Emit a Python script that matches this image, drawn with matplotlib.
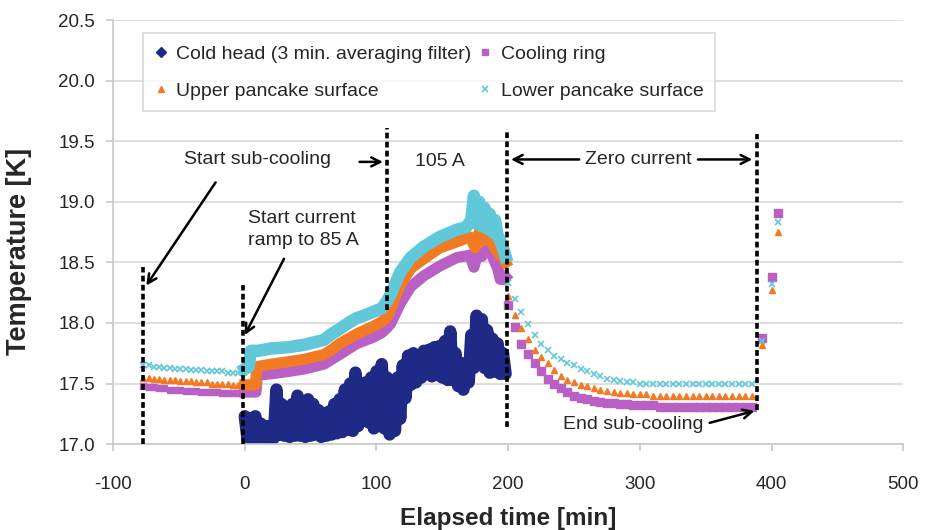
import matplotlib
matplotlib.use('Agg')
import matplotlib.pyplot as plt
from matplotlib.lines import Line2D

plt.rcParams['font.family'] = ['Liberation Sans', 'DejaVu Sans']

# ---------------- data ----------------
# pre-cooling (sparse markers)
t_pre = [-77, -73, -69, -65, -61, -57, -53, -49, -45, -41,
         -37, -33, -29, -25, -21, -17, -13, -9, -5, -1]
lower_pre = [17.65, 17.65, 17.64, 17.64, 17.63, 17.63, 17.62, 17.62, 17.62, 17.61,
             17.61, 17.61, 17.60, 17.60, 17.60, 17.60, 17.59, 17.59, 17.59, 17.59]
upper_pre = [17.55, 17.55, 17.54, 17.54, 17.53, 17.53, 17.53, 17.52, 17.52, 17.52,
             17.51, 17.51, 17.51, 17.50, 17.50, 17.50, 17.50, 17.49, 17.49, 17.49]
ring_pre = [17.48, 17.47, 17.47, 17.46, 17.46, 17.45, 17.45, 17.45, 17.44, 17.44,
            17.44, 17.43, 17.43, 17.43, 17.43, 17.42, 17.42, 17.42, 17.42, 17.42]

# current on (dense records)
t_lower_on = [0, 3, 4.5, 10, 20, 33, 45, 60, 66, 72, 80, 85, 90, 97, 104, 108, 111,
              118, 126, 136, 148, 161, 168, 172, 174, 176, 178, 180, 182, 184, 186,
              188, 190, 192, 194, 196, 198]
lower_on = [17.62, 17.64, 17.77, 17.77, 17.79, 17.80, 17.82, 17.86, 17.91, 17.95, 18.01,
            18.04, 18.06, 18.09, 18.12, 18.18, 18.24, 18.42, 18.54, 18.63, 18.71, 18.77,
            18.79, 18.85, 19.05, 18.82, 19.00, 18.80, 18.95, 18.78, 18.90, 18.75, 18.85,
            18.72, 18.68, 18.62, 18.55]
t_upper_on = [0, 8.3, 9, 20, 33, 45, 60, 66, 72, 85, 97, 104, 108, 111, 118, 126, 136,
              148, 161, 171, 175, 178, 181, 185, 188, 191, 194, 196, 198]
upper_on = [17.49, 17.49, 17.64, 17.66, 17.68, 17.70, 17.74, 17.78, 17.83, 17.91, 17.97,
            18.01, 18.05, 18.12, 18.31, 18.45, 18.53, 18.62, 18.67, 18.71, 18.62, 18.75,
            18.68, 18.80, 18.65, 18.60, 18.56, 18.54, 18.50]
t_ring_on = [0, 8.5, 9.5, 20, 33, 45, 60, 66, 72, 85, 97, 104, 108, 111, 118, 126, 136,
             148, 161, 171, 174, 177, 180, 184, 187, 190, 192, 194, 196, 198]
ring_on = [17.43, 17.43, 17.57, 17.58, 17.60, 17.62, 17.66, 17.70, 17.74, 17.83, 17.88,
           17.92, 17.96, 18.00, 18.16, 18.30, 18.39, 18.47, 18.54, 18.56, 18.46, 18.58,
           18.55, 18.62, 18.58, 18.50, 18.45, 18.36, 18.36, 18.38]

# cold head, 2-min records 0..198
t_cold = list(range(0, 200, 2))
cold = [17.23, 17.05, 17.21, 17.03, 17.23, 17.02, 17.17, 17.01, 17.15, 17.02,
        17.15, 17.05, 17.45, 17.08, 17.33, 17.07, 17.25, 17.06, 17.33, 17.07,
        17.40, 17.07, 17.31, 17.06, 17.37, 17.07, 17.33, 17.08, 17.28, 17.06,
        17.25, 17.07, 17.27, 17.08, 17.33, 17.09, 17.37, 17.10, 17.45, 17.12,
        17.50, 17.11, 17.59, 17.15, 17.50, 17.23, 17.51, 17.18, 17.55, 17.13,
        17.60, 17.15, 17.66, 17.13, 17.55, 17.08, 17.45, 17.11, 17.55, 17.21,
        17.65, 17.38, 17.73, 17.49, 17.75, 17.51, 17.73, 17.55, 17.77, 17.58,
        17.78, 17.56, 17.80, 17.57, 17.81, 17.55, 17.85, 17.53, 17.93, 17.53,
        17.75, 17.48, 17.67, 17.45, 17.65, 17.51, 17.90, 17.63, 18.06, 17.69,
        18.03, 17.63, 17.94, 17.59, 17.87, 17.60, 17.83, 17.58, 17.75, 17.58]

# zero current decay (sparse markers)
t_dec = [200, 205, 210, 215, 220, 225, 230, 235, 240, 245,
         250, 255, 260, 265, 270, 275, 280, 285, 290, 295,
         300, 305, 310, 315, 320, 325, 330, 335, 340, 345,
         350, 355, 360, 365, 370, 375, 380, 385]
ring_dec = [18.15, 17.97, 17.83, 17.74, 17.67, 17.60, 17.54, 17.50, 17.46, 17.43,
            17.40, 17.38, 17.37, 17.36, 17.35, 17.34, 17.34, 17.33, 17.33, 17.32,
            17.32, 17.32, 17.32, 17.31, 17.31, 17.31, 17.31, 17.31, 17.31, 17.31,
            17.31, 17.31, 17.31, 17.31, 17.31, 17.31, 17.31, 17.31]
upper_dec = [18.22, 18.07, 17.96, 17.87, 17.78, 17.72, 17.67, 17.61, 17.56, 17.53,
             17.51, 17.49, 17.48, 17.46, 17.45, 17.44, 17.43, 17.42, 17.42, 17.41,
             17.41, 17.41, 17.40, 17.40, 17.40, 17.40, 17.40, 17.40, 17.40, 17.40,
             17.40, 17.40, 17.40, 17.40, 17.40, 17.40, 17.40, 17.40]
lower_dec = [18.33, 18.20, 18.09, 17.99, 17.90, 17.83, 17.78, 17.73, 17.70, 17.67,
             17.65, 17.62, 17.60, 17.58, 17.56, 17.54, 17.53, 17.52, 17.51, 17.51,
             17.50, 17.50, 17.50, 17.50, 17.50, 17.50, 17.50, 17.50, 17.50, 17.50,
             17.50, 17.50, 17.50, 17.50, 17.50, 17.50, 17.50, 17.50]

# after end of sub-cooling
t_post = [393, 400, 405]
ring_post = [17.88, 18.38, 18.91]
upper_post = [17.82, 18.27, 18.75]
lower_post = [17.85, 18.32, 18.83]

# event markers (dashed vertical lines)
event_t = [-77, -1, 108, 199, 389]
event_lo = [17.0, 17.0, 18.11, 17.14, 17.28]
event_hi = [18.46, 18.31, 19.61, 19.60, 19.56]

labels = ["Cold head (3 min. averaging filter)", "Cooling ring",
          "Upper pancake surface", "Lower pancake surface"]
x_ticks = [-100, 0, 100, 200, 300, 400, 500]
y_ticks = [17.0, 17.5, 18.0, 18.5, 19.0, 19.5, 20.0, 20.5]

# ---------------- style ----------------
C_COLD = '#1f2a86'
C_RING = '#b860c4'
C_UP = '#f27a22'
C_LOW = '#60c8d8'
TXT = '#262626'

fig = plt.figure(figsize=(9.35, 5.30), dpi=100)
ax = fig.add_axes([0.121, 0.162, 0.845, 0.800])

# cold head (dense diamonds merge into a thick band)
ax.plot(t_cold, cold, color=C_COLD, lw=9,
        solid_joinstyle='round', solid_capstyle='round', zorder=2)

# cooling ring
ax.plot(t_pre, ring_pre, ls='none', marker='s', ms=5, color=C_RING, zorder=3)
ax.plot(t_ring_on, ring_on, color=C_RING, lw=8, solid_joinstyle='round', zorder=3)
ax.plot(t_dec, ring_dec, ls='none', marker='s', ms=5.5, color=C_RING, zorder=3)
ax.plot(t_post, ring_post, ls='none', marker='s', ms=5.5, color=C_RING, zorder=3)

# upper pancake
ax.plot(t_pre, upper_pre, ls='none', marker='^', ms=4.5, color=C_UP, zorder=4)
ax.plot(t_upper_on, upper_on, color=C_UP, lw=8, solid_joinstyle='round', zorder=4)
ax.plot(t_dec, upper_dec, ls='none', marker='^', ms=4.5, color=C_UP, zorder=4)
ax.plot(t_post, upper_post, ls='none', marker='^', ms=4.5, color=C_UP, zorder=4)

# lower pancake
ax.plot(t_pre, lower_pre, ls='none', marker='x', ms=5, mew=1.2, color=C_LOW, zorder=5)
ax.plot(t_lower_on, lower_on, color=C_LOW, lw=9, solid_joinstyle='round', zorder=5)
ax.plot(t_dec, lower_dec, ls='none', marker='x', ms=5, mew=1.2, color=C_LOW, zorder=5)
ax.plot(t_post, lower_post, ls='none', marker='x', ms=5, mew=1.2, color=C_LOW, zorder=5)

# event lines
ax.vlines(event_t, event_lo, event_hi, colors='black', lw=2.6,
          linestyles=(0, (1.6, 0.9)), zorder=6)

# axes styling
ax.set_xlim(-100, 500)
ax.set_ylim(17.0, 20.5)
ax.set_xticks(x_ticks)
ax.set_yticks(y_ticks)
ax.set_xticklabels([str(v) for v in x_ticks])
ax.set_yticklabels([f"{v:.1f}" for v in y_ticks])
ax.yaxis.grid(True, color='#d9d9d9', lw=1.2)
ax.set_axisbelow(True)
for s in ['top', 'right']:
    ax.spines[s].set_visible(False)
for s in ['left', 'bottom']:
    ax.spines[s].set_color('#c8c8c8')
    ax.spines[s].set_linewidth(1.2)
ax.tick_params(axis='both', colors='#c8c8c8', labelcolor=TXT, labelsize=13.5,
               length=5, width=1.2)
ax.tick_params(axis='x', pad=18)
ax.tick_params(axis='y', pad=8)

ax.set_xlabel("Elapsed time [min]", fontsize=17.5, fontweight='bold', color=TXT, labelpad=10)
ax.set_ylabel("Temperature [K]", fontsize=19.5, fontweight='bold', color=TXT)
ax.yaxis.set_label_coords(-0.103, 0.455)

# legend
handles = [
    Line2D([], [], ls='none', marker='D', ms=5, color=C_COLD),
    Line2D([], [], ls='none', marker='^', ms=5, color=C_UP),
    Line2D([], [], ls='none', marker='s', ms=5, color=C_RING),
    Line2D([], [], ls='none', marker='x', ms=5, mew=1.2, color=C_LOW),
]
leg_labels = [labels[0], labels[2], labels[1], labels[3]]
leg = ax.legend(handles, leg_labels, ncol=2, loc='upper left',
                bbox_to_anchor=(0.038, 0.969), borderaxespad=0,
                fontsize=14, frameon=True, fancybox=False,
                handlelength=0.6, handletextpad=0.5, columnspacing=0.4,
                labelspacing=1.0, borderpad=0.6)
leg.get_frame().set_edgecolor('#d0d0d0')
leg.get_frame().set_linewidth(1.2)
for t in leg.get_texts():
    t.set_color(TXT)

# annotations
akw = dict(arrowstyle='->', color='black', lw=1.8, mutation_scale=16)
ax.text(9.4, 19.35, "Start sub-cooling", fontsize=14, color=TXT, ha='center', va='center')
ax.annotate('', xy=(-76, 18.29), xytext=(-21, 19.18), arrowprops=akw)
ax.text(2.6, 18.77, "Start current\nramp to 85 A", fontsize=14, color=TXT,
        ha='left', va='center', linespacing=1.35)
ax.annotate('', xy=(-1, 17.88), xytext=(30.7, 18.55), arrowprops=akw)
ax.text(148, 19.33, "105 A", fontsize=14, color=TXT, ha='center', va='center')
ax.annotate('', xy=(107, 19.33), xytext=(85, 19.33), arrowprops=akw)
ax.text(299, 19.35, "Zero current", fontsize=14, color=TXT, ha='center', va='center')
ax.annotate('', xy=(200, 19.35), xytext=(256, 19.35), arrowprops=akw)
ax.annotate('', xy=(387.5, 19.35), xytext=(342, 19.35), arrowprops=akw)
ax.text(295, 17.16, "End sub-cooling", fontsize=14, color=TXT, ha='center', va='center')
ax.annotate('', xy=(389, 17.28), xytext=(351, 17.17), arrowprops=akw)

fig.savefig('out.png', dpi=100)
